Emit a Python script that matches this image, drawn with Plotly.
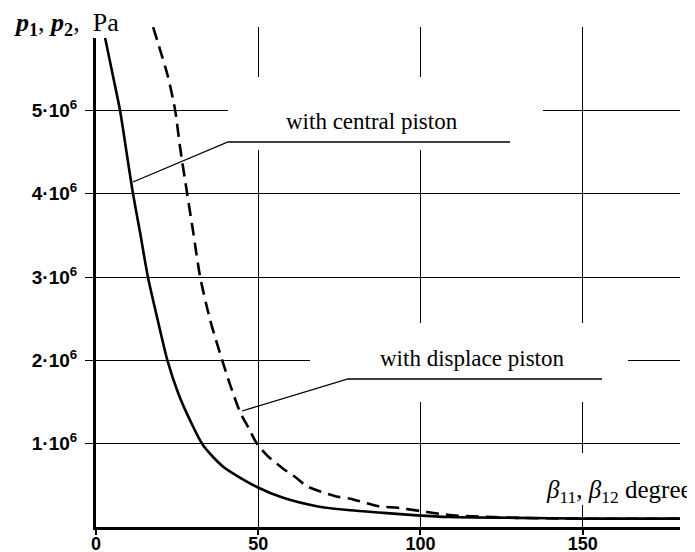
import plotly.graph_objects as go

# ---- data ----
beta_central = [2.8, 5.3, 7.4, 9.4, 11.4, 13.6, 16, 18.8, 22, 25.4, 29, 33, 39.3, 49.6,
                57.7, 68, 78.4, 88.6, 99, 109, 130, 150, 180]
p_central = [5.87, 5.4, 5.0, 4.5, 4.0, 3.53, 3.0, 2.52, 2.0, 1.6, 1.28, 0.98, 0.72, 0.48,
             0.35, 0.25, 0.20, 0.17, 0.14, 0.12, 0.11, 0.10, 0.10]

beta_displace = [17.6, 22.2, 24.4, 25.9, 28.1, 30, 32.1, 35.2, 38.9, 41.4, 44.4, 47, 49.6,
                 52.7, 57.7, 61.4, 65, 73.8, 78.4, 87, 93, 102, 110, 130, 150, 180]
p_displace = [6.0, 5.4, 5.0, 4.56, 4.0, 3.53, 3.0, 2.48, 2.0, 1.70, 1.38, 1.19, 1.0,
              0.86, 0.70, 0.60, 0.49, 0.37, 0.34, 0.25, 0.23, 0.18, 0.14, 0.11, 0.10, 0.10]

scale = 1e6
x_ticks = [0, 50, 100, 150]
x_ticktext = ["0", "50", "100", "150"]
y_ticks = [1, 2, 3, 4, 5, 6]
y_ticktext = ["1·10<sup>6</sup>", "2·10<sup>6</sup>", "3·10<sup>6</sup>",
              "4·10<sup>6</sup>", "5·10<sup>6</sup>", ""]

label_central = "with central piston"
label_displace = "with displace piston"
y_title = "<b><i>p</i><sub>1</sub></b>, <b><i>p</i><sub>2</sub></b>, &nbsp;Pa"
x_title = "<i>β</i><sub>11</sub>, <i>β</i><sub>12</sub> degree"

# ---- layout geometry (screen pixels; the page body adds an 8px offset) ----
OFF = 8
W, H = 695 - OFF, 552 - OFF
PL, PR, PT, PB = 96, 680, 27, 527          # plot area on screen
L, T = PL - OFF, PT - OFF
R, B = (W + OFF) - PR, (H + OFF) - PB
pw, ph = PR - PL, PB - PT


def fx(px):
    return (px - PL) / pw


def fy(py):
    return (PB - py) / ph


fig = go.Figure()
fig.add_trace(go.Scatter(x=beta_central, y=[v * scale for v in p_central], mode="lines",
                         line=dict(color="black", width=2.6, shape="spline", smoothing=0.7),
                         showlegend=False, name=label_central))
fig.add_trace(go.Scatter(x=beta_displace, y=[v * scale for v in p_displace], mode="lines",
                         line=dict(color="black", width=2.6, dash="13px,7px",
                                   shape="spline", smoothing=0.7),
                         showlegend=False, name=label_displace))

shapes = []


def mask(x0, y0, x1, y1):
    shapes.append(dict(type="rect", xref="paper", yref="paper",
                       x0=fx(x0), x1=fx(x1), y0=fy(y1), y1=fy(y0),
                       fillcolor="white", line=dict(width=0), layer="above"))


mask(0, 0, 132, 38)
mask(228, 77, 543, 150)
mask(310, 323, 628, 402)
mask(540, 453, 695, 505)


def polyline(pts):
    path = "M " + " L ".join(f"{fx(a)},{fy(b)}" for a, b in pts)
    shapes.append(dict(type="path", xref="paper", yref="paper", path=path,
                       line=dict(color="black", width=1.3), layer="above"))


polyline([(133, 182), (228, 142), (510, 142)])
polyline([(242, 411), (348, 379), (602, 379)])

serif = "Liberation Serif, Times New Roman, serif"
annotations = [
    dict(text=label_central, x=fx(372), y=fy(122), xref="paper", yref="paper",
         xanchor="center", yanchor="middle",
         showarrow=False, font=dict(family=serif, size=23, color="black")),
    dict(text=label_displace, x=fx(472), y=fy(359), xref="paper", yref="paper",
         xanchor="center", yanchor="middle",
         showarrow=False, font=dict(family=serif, size=23, color="black")),
    dict(text=y_title, x=fx(12), y=fy(24), xref="paper", yref="paper",
         xanchor="left", yanchor="middle", showarrow=False,
         font=dict(family=serif, size=26, color="black")),
    dict(text=x_title, x=fx(694), y=fy(491), xref="paper", yref="paper",
         xanchor="right", yanchor="middle", showarrow=False,
         font=dict(family=serif, size=25, color="black")),
]

tickfont = dict(family="Liberation Sans, Arial, sans-serif", size=18, color="black")

fig.update_layout(
    width=W, height=H, autosize=False,
    margin=dict(l=L, r=R, t=T, b=B, pad=0, autoexpand=False),
    paper_bgcolor="white", plot_bgcolor="white",
    shapes=shapes, annotations=annotations,
    showlegend=False,
    xaxis=dict(range=[0, 180], tickvals=x_ticks, ticktext=[f"<b>{t}</b>" for t in x_ticktext],
               showgrid=True, gridcolor="black", gridwidth=1.2, automargin=False,
               showline=True, linecolor="black", linewidth=3,
               ticks="outside", ticklen=5, tickwidth=2, tickcolor="black",
               ticklabelstandoff=-7,
               tickfont=tickfont, zeroline=False, fixedrange=True),
    yaxis=dict(range=[0, 6 * scale], tickvals=[v * scale for v in y_ticks],
               ticktext=[f"<b>{t}</b>" if t else "" for t in y_ticktext],
               showgrid=True, gridcolor="black", gridwidth=1.2, automargin=False,
               showline=True, linecolor="black", linewidth=3,
               ticks="outside", ticklen=8, tickwidth=1.2, tickcolor="black",
               ticklabelstandoff=4,
               tickfont=dict(family="Liberation Sans, Arial, sans-serif", size=19,
                             color="black"),
               zeroline=False, fixedrange=True),
)

fig.write_html("out.html", config={"displayModeBar": False})
